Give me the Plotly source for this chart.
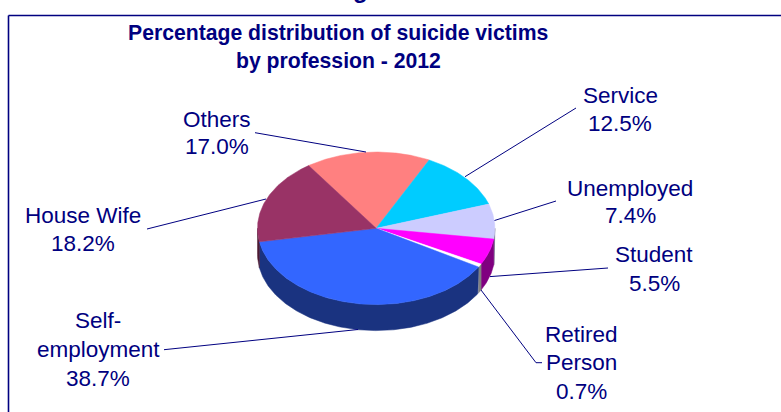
import math
import plotly.graph_objects as go

# ---- data ----
categories = ["Others", "Service", "Unemployed", "Student", "Retired Person", "Self-employment", "House Wife"]
values = [17.0, 12.5, 7.4, 5.5, 0.7, 38.7, 18.2]
label_lines = [["Others"], ["Service"], ["Unemployed"], ["Student"], ["Retired", "Person"], ["Self-", "employment"], ["House Wife"]]
title_lines = ["Percentage distribution of suicide victims", "by profession - 2012"]

# ---- styles ----
top_colors = ["#FF8080", "#00CCFF", "#CCCCFF", "#FF00FF", "#FFFFFF", "#3366FF", "#993366"]
side_colors = ["#804040", "#006680", "#666680", "#800080", "#808080", "#1A3380", "#4D1A33"]
NAVY = "#000080"
FONT = "Liberation Sans"

# ---- pie geometry (in the pixel-like axis units) ----
cx, cy, rx, ry, depth = 376.2, 228.3, 118.7, 76.3, 26
start_angle = 124.7
total = sum(values)


def arc(a0, a1, dy=0.0, n=None):
    n = n or max(3, int(abs(a1 - a0) * 1.5))
    xs, ys = [], []
    for i in range(n + 1):
        a = math.radians(a0 + (a1 - a0) * i / n)
        xs.append(cx + rx * math.cos(a))
        ys.append(cy - ry * math.sin(a) + dy)
    return xs, ys


fig = go.Figure()

# slice angles from the values (clockwise from the start angle)
spans = []
a = start_angle
for v in values:
    b = a - v / total * 360
    spans.append((a, b))
    a = b

# side walls: only the front half of the rim (angles between -180 and 0, i.e. 180..360)
for (a0, a1), col, name in zip(spans, side_colors, categories):
    for shift in (0, -360, 360):
        lo = max(min(a0, a1) + shift, -180)
        hi = min(max(a0, a1) + shift, 0)
        if hi > lo:
            x1, y1 = arc(lo, hi)
            x2, y2 = arc(hi, lo, depth)
            fig.add_trace(go.Scatter(x=x1 + x2 + x1[:1], y=y1 + y2 + y1[:1], mode="lines", fill="toself",
                                     fillcolor=col, line=dict(color=col, width=0.5), name=name + " side",
                                     hoverinfo="skip", showlegend=False))

# top faces
for (a0, a1), col, name, v in zip(spans, top_colors, categories, values):
    xs, ys = arc(a0, a1)
    fig.add_trace(go.Scatter(x=[cx] + xs + [cx], y=[cy] + ys + [cy], mode="lines", fill="toself",
                             fillcolor=col, line=dict(color=col, width=0.5), name=name,
                             text=f"{name}: {v}%", hoverinfo="text", showlegend=False))

# leader lines, one per category
leaders = [
    [(255, 132.7), (366, 152)],
    [(465, 176.7), (576, 108)],
    [(494.5, 220.5), (556, 201)],
    [(490, 276.6), (608, 268)],
    [(481, 290), (536, 362.7), (542, 362.7)],
    [(358, 329.5), (164, 349.7)],
    [(266, 199), (147, 229)],
]
for pts, name in zip(leaders, categories):
    fig.add_trace(go.Scatter(x=[p[0] for p in pts], y=[p[1] for p in pts], mode="lines",
                             line=dict(color=NAVY, width=1), name=name + " leader",
                             hoverinfo="skip", showlegend=False))

annotations = []


def text(x, y, s, size=22.5, bold=False, yshift=0):
    annotations.append(dict(x=x, y=y, xref="x", yref="y", text=f"<b>{s}</b>" if bold else s, showarrow=False,
                            xanchor="center", yanchor="middle", yshift=yshift,
                            font=dict(family=FONT, size=size, color=NAVY)))


label_x = [217, 620, 630, 654, 581, 98, 83]
label_y = [[119, 146], [95, 123], [188, 215], [254, 283], [334, 362, 391], [320, 349, 378], [215, 243]]
for lines, v, lx, ly in zip(label_lines, values, label_x, label_y):
    for s, y in zip(lines + [f"{v:.1f}%"], ly):
        text(lx, y, s)

for s, y in zip(title_lines, (33, 61)):
    text(338, y, s, size=21.2, bold=True)

# descender of the cut-off heading above the frame
text(360, 0, "g", size=24, bold=True, yshift=11)

# frame: top and left edges only
shapes = [
    dict(type="line", xref="x", yref="y", x0=8.5, x1=781, y0=15.5, y1=15.5, line=dict(color=NAVY, width=1.6)),
    dict(type="line", xref="x", yref="y", x0=8.5, x1=8.5, y0=15.5, y1=412, line=dict(color=NAVY, width=1.6)),
]

fig.update_layout(
    width=781, height=412, margin=dict(l=0, r=0, t=0, b=0),
    paper_bgcolor="white", plot_bgcolor="white",
    xaxis=dict(range=[0, 781], visible=False, fixedrange=True),
    yaxis=dict(range=[412, 0], visible=False, fixedrange=True),
    annotations=annotations, shapes=shapes, showlegend=False,
)
fig.write_html("out.html", config={"displayModeBar": False}, post_script="document.body.style.margin='0';")
